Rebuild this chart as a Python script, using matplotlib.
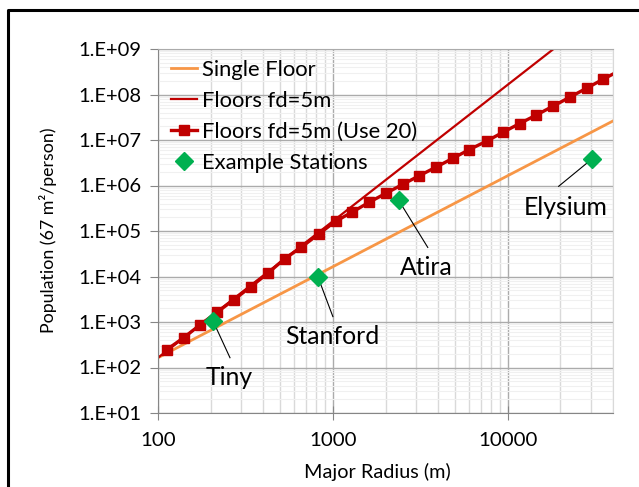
#!/usr/bin/env python3

# import modules
from matplotlib import pyplot as plt
from matplotlib.lines import Line2D
from matplotlib.ticker import FixedLocator, FuncFormatter, NullFormatter
import numpy as np

plt.rcParams['font.family'] = ['Lato', 'DejaVu Sans']

# data
single_r = [100, 300, 1000, 3000, 10000, 40000]
single_pop = [164, 1480, 16400, 148000, 1.64e6, 2.62e7]

floors_r = [100, 300, 1000, 3000, 10000, 20000]
floors_pop = [164, 4430, 164000, 4.43e6, 1.64e8, 1.31e9]

use20_r = [112, 140, 175, 218, 272, 340, 425, 530, 660, 830, 1040, 1290, 1610,
           2010, 2510, 3100, 3880, 4850, 6000, 7600, 9400, 11700, 14600, 18100,
           22600, 28300, 35000, 43600]
use20_pop = [245, 450, 880, 1650, 3100, 6000, 11800, 24500, 44000, 86000, 165000,
             260000, 427000, 673000, 1.06e6, 1.62e6, 2.52e6, 3.95e6, 6.1e6, 9.5e6,
             1.48e7, 2.3e7, 3.55e7, 5.5e7, 8.7e7, 1.38e8, 2.15e8, 3.35e8]

station_names = ['Tiny', 'Stanford', 'Atira', 'Elysium']
station_r = [206, 820, 2380, 30200]
station_pop = [1070, 10000, 472000, 3.78e6]

# call-out text positions and leader line ends (data coords)
label_r = [255, 986, 3443, 21400]
label_pop = [60, 476, 15800, 3.31e5]
leader_end_r = [258, 1000, 3490, 19550]
leader_end_pop = [164, 1315, 43500, 9.6e5]

fig = plt.figure(figsize=(6.39, 4.87), dpi=100)
ax = fig.add_axes([158 / 639, 1 - 413 / 487, 455 / 639, 364 / 487])

ax.set_xscale('log')
ax.set_yscale('log')
ax.set_xlim(100, 40000)
ax.set_ylim(10, 1e9)

# grid
ax.set_axisbelow(True)
ax.xaxis.set_minor_locator(FixedLocator([m * 10 ** e for e in range(2, 5) for m in range(2, 10)]))
ax.yaxis.set_minor_locator(FixedLocator([m * 10 ** e for e in range(1, 9) for m in range(2, 10)]))
ax.grid(which='major', axis='both', color='#ABABAB', linewidth=1.0)
ax.grid(which='minor', axis='x', color='#D9D9D9', linewidth=1.0)
ax.grid(which='minor', axis='y', color='#F0F0F0', linewidth=0.8)
ax.xaxis.set_minor_formatter(NullFormatter())
ax.yaxis.set_minor_formatter(NullFormatter())

# series
ax.plot(single_r, single_pop, color='#F79646', linewidth=2.0, label='Single Floor')
ax.plot(floors_r, floors_pop, color='#C00000', linewidth=1.6, label='Floors fd=5m')
ax.plot(use20_r, use20_pop, color='#C00000', linewidth=2.4, marker='s', markersize=6.5,
        label='Floors fd=5m (Use 20)')
ax.plot(station_r, station_pop, linestyle='none', marker='D', markersize=9,
        color='#00B050', label='Example Stations', zorder=5)

# call-outs
for name, sr, sp, lr, lp, er, ep in zip(station_names, station_r, station_pop,
                                         label_r, label_pop, leader_end_r, leader_end_pop):
	ax.plot([sr, er], [sp, ep], color='black', linewidth=0.8, zorder=4)
	ax.text(lr, lp, name, fontsize=17.8, ha='center', va='center', color='black')

# ticks and labels
ax.yaxis.set_major_formatter(FuncFormatter(lambda v, p: '1.E+%02d' % round(np.log10(v))))
ax.xaxis.set_major_formatter(FuncFormatter(lambda v, p: '%d' % round(v)))
ax.tick_params(axis='y', which='major', direction='out', length=6, color='#868686',
               labelsize=14.5, pad=6)
ax.tick_params(axis='x', which='major', direction='inout', length=10, color='#868686',
               labelsize=14.7, pad=9)
ax.tick_params(which='minor', length=0)

for side in ['left', 'bottom']:
	ax.spines[side].set_color('#868686')
ax.spines['top'].set_color('#ABABAB')
ax.spines['right'].set_color('#D9D9D9')

ax.set_xlabel('Major Radius (m)', fontsize=14.3, va='center')
ax.xaxis.set_label_coords((377 - 158) / 455, -(472 - 413) / 364)
ax.set_ylabel('Population (67 m²/person)', fontsize=12.8, va='center')
ax.yaxis.set_label_coords(-(158 - 48) / 455, (413 - 230) / 364)

ax.legend(loc='upper left', bbox_to_anchor=((171 - 158) / 455, (413 - 60) / 364),
          frameon=False, fontsize=15.8, borderpad=0, borderaxespad=0,
          handlelength=1.2, handletextpad=0.2, labelspacing=0.5)

# black frame around the chart area
fig.add_artist(Line2D([8 / 639, 8 / 639, 1.0], [0.0, 1 - 10 / 487, 1 - 10 / 487],
                      color='black', linewidth=2.2, transform=fig.transFigure))

plt.savefig('out.png', dpi=100)
